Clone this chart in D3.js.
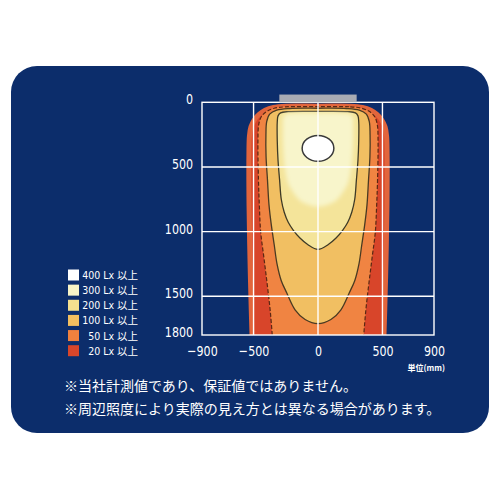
<!DOCTYPE html>
<html>
<head>
<meta charset="utf-8">
<script src="https://cdn.jsdelivr.net/npm/d3@7"></script>
<style>
  html, body { margin: 0; padding: 0; background: #ffffff; }
  svg { display: block; }
  .num { font-family: "Liberation Sans Narrow", "DejaVu Sans Condensed", "Liberation Sans", sans-serif; }
  .jp { font-family: "Noto Sans CJK JP", sans-serif; }
</style>
</head>
<body>
<svg id="chart" width="500" height="500"></svg>
<script>
// ---------- data (mm) ----------
const xTicks = [-900, -500, 0, 500, 900];
const yTicks = [0, 500, 1000, 1500, 1800];
const xGrid = [-500, 0, 500];
const yGrid = [500, 1000, 1500];

const legendLabels = ["400 Lx 以上", "300 Lx 以上", "200 Lx 以上", "100 Lx 以上", "50 Lx 以上", "20 Lx 以上"];
const legendColors = ["#ffffff", "#f8f4c6", "#f5e08f", "#f3bf60", "#f0813e", "#d8462a"];

// right-half profiles [x, y] of each illuminance contour (mirrored about x = 0)
const contour20 = [[0,30],[250,30],[345,40],[410,62],[455,92],[495,137],[520,190],[532,260],[536,400],[535,800],[528,1200],[518,1600],[512,1800],[508,1950]];
const contour50 = [[0,34],[250,35],[340,46],[400,72],[440,112],[460,172],[466,300],[462,600],[455,800],[445,1000],[420,1200],[395,1400],[372,1600],[355,1800],[345,1950]];
const contour100 = [[0,46],[220,48],[320,61],[375,92],[398,150],[404,250],[403,420],[392,600],[380,795],[362,950],[340,1100],[318,1250],[285,1380],[243,1473],[178,1605],[100,1680],[0,1712]];
const contour200 = [[0,70],[230,72],[290,82],[310,105],[316,150],[316,300],[310,450],[298,600],[285,750],[262,850],[230,930],[191,990],[140,1050],[80,1100],[0,1138]];
const contour300 = [[0,84],[200,85],[250,93],[268,115],[272,200],[270,350],[258,500],[232,627],[190,700],[145,755],[80,790],[0,807]];
const spot400 = [0, 356, 123, 100];          // centre x, centre y, radius x, radius y
const lampBar = [-300, 300, -60, 0];          // x0, x1, y0, y1

const unitLabel = "単位(mm)";
const notes = ["※当社計測値であり、保証値ではありません。", "※周辺照度により実際の見え方とは異なる場合があります。"];

// ---------- layout ----------
const svg = d3.select("#chart");
const plot = { left: 202, right: 434, top: 102.3, bottom: 335 };
const x = d3.scaleLinear().domain([-900, 900]).range([plot.left, plot.right]);
const y = d3.scaleLinear().domain([0, 1800]).range([plot.top, plot.bottom]);

svg.append("rect")
  .attr("x", 11).attr("y", 66).attr("width", 478).attr("height", 367)
  .attr("rx", 26).attr("fill", "#0c2d6b");

const defs = svg.append("defs");
defs.append("clipPath").attr("id", "plotClip")
  .append("rect")
  .attr("x", plot.left).attr("y", plot.top)
  .attr("width", plot.right - plot.left).attr("height", plot.bottom - plot.top);
defs.append("filter").attr("id", "soft").attr("x", "-20%").attr("y", "-20%").attr("width", "140%").attr("height", "140%")
  .append("feGaussianBlur").attr("stdDeviation", 2);

function fullShape(half) {
  const right = half.map(d => [d[0], d[1]]);
  const left = half.filter(d => d[0] !== 0).map(d => [-d[0], d[1]]).reverse();
  return right.concat(left);
}
const shapeLine = d3.line().x(d => x(d[0])).y(d => y(d[1])).curve(d3.curveCatmullRomClosed.alpha(0.5));

const g = svg.append("g").attr("clip-path", "url(#plotClip)");

g.append("path").attr("d", shapeLine(fullShape(contour20)))
  .attr("fill", "#d8452a").attr("stroke", "#e2653c").attr("stroke-width", 5);
g.append("path").attr("d", shapeLine(fullShape(contour50)))
  .attr("fill", "#f08442").attr("stroke", "#5a2814").attr("stroke-width", 1.2).attr("stroke-dasharray", "4 2");
g.append("path").attr("d", shapeLine(fullShape(contour100)))
  .attr("fill", "#f1bf62").attr("stroke", "#4a3a22").attr("stroke-width", 1.3);
g.append("path").attr("d", shapeLine(fullShape(contour200)))
  .attr("fill", "#f4e49a").attr("stroke", "#3e3a26").attr("stroke-width", 1.3);
g.append("path").attr("d", shapeLine(fullShape(contour300)))
  .attr("fill", "#f8f5cb").attr("filter", "url(#soft)");
g.append("ellipse")
  .attr("cx", x(spot400[0])).attr("cy", y(spot400[1]))
  .attr("rx", x(spot400[2]) - x(0)).attr("ry", y(spot400[3]) - y(0))
  .attr("fill", "#ffffff").attr("stroke", "#3a3a3a").attr("stroke-width", 1.5);

// grid
svg.append("g").selectAll("line.v").data(xGrid).join("line")
  .attr("x1", d => x(d)).attr("x2", d => x(d)).attr("y1", plot.top).attr("y2", plot.bottom)
  .attr("stroke", "#ffffff").attr("stroke-width", 1.4);
svg.append("g").selectAll("line.h").data(yGrid).join("line")
  .attr("x1", plot.left).attr("x2", plot.right).attr("y1", d => y(d)).attr("y2", d => y(d))
  .attr("stroke", "#ffffff").attr("stroke-width", 1.4);
svg.append("rect")
  .attr("x", plot.left).attr("y", plot.top)
  .attr("width", plot.right - plot.left).attr("height", plot.bottom - plot.top)
  .attr("fill", "none").attr("stroke", "#ffffff").attr("stroke-width", 1.4);

// lamp
svg.append("rect")
  .attr("x", x(lampBar[0])).attr("y", y(lampBar[2]))
  .attr("width", x(lampBar[1]) - x(lampBar[0])).attr("height", y(lampBar[3]) - y(lampBar[2]))
  .attr("fill", "#a9abb3");

// axes
const fmt = d3.format("d");
const sx = 0.85;
const yAxis = svg.append("g").attr("transform", `translate(${plot.left},0)`)
  .call(d3.axisLeft(y).tickValues(yTicks).tickSize(0).tickPadding(9).tickFormat(fmt));
const xAxis = svg.append("g").attr("transform", `translate(0,${plot.bottom})`)
  .call(d3.axisBottom(x).tickValues(xTicks).tickSize(0).tickPadding(11).tickFormat(fmt));
[yAxis, xAxis].forEach(a => {
  a.select(".domain").remove();
  a.selectAll("text").attr("class", "num").attr("fill", "#ffffff").style("font-size", "14.5px")
    .attr("transform", `scale(${sx},1)`);
});
yAxis.selectAll("text").attr("dy", "0.1em").attr("x", -9 / sx);

svg.append("text").attr("class", "jp")
  .attr("x", 445).attr("y", 371).attr("text-anchor", "end")
  .attr("fill", "#ffffff").style("font-size", "8px").style("font-weight", "bold")
  .text(unitLabel);

// legend
const leg = svg.append("g");
const rowY = d3.scaleLinear().domain([0, 5]).range([275, 350.7]);
leg.selectAll("rect").data(legendColors).join("rect")
  .attr("x", 68).attr("y", (d, i) => rowY(i) - 5.5)
  .attr("width", 11).attr("height", 11).attr("fill", d => d);
leg.selectAll("text").data(legendLabels).join("text")
  .attr("x", 138).attr("y", (d, i) => rowY(i) + 4)
  .attr("text-anchor", "end").attr("fill", "#ffffff")
  .style("font-family", "\"Liberation Sans Narrow\", \"DejaVu Sans Condensed\", \"Noto Sans CJK JP\", sans-serif")
  .style("font-size", "10.5px")
  .text(d => d);

// notes
svg.append("g").selectAll("text").data(notes).join("text")
  .attr("class", "jp")
  .attr("x", 64).attr("y", (d, i) => 391 + i * 23)
  .attr("fill", "#ffffff").style("font-size", "14px")
  .text(d => d);
</script>
</body>
</html>
